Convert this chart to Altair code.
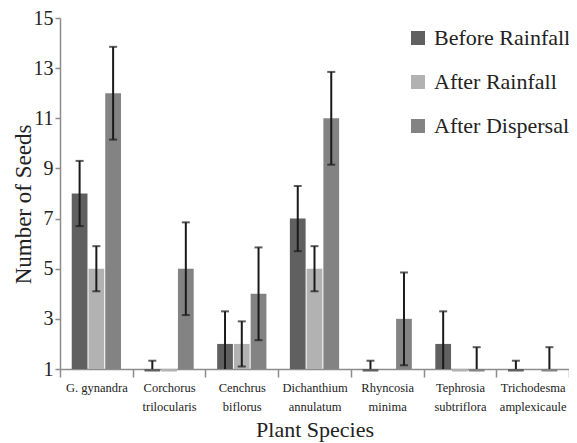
import altair as alt
import pandas as pd

species = ["G. gynandra", "Corchorus trilocularis", "Cenchrus biflorus",
           "Dichanthium annulatum", "Rhyncosia minima", "Tephrosia subtriflora",
           "Trichodesma amplexicaule"]
series = ["Before Rainfall", "After Rainfall", "After Dispersal"]
colors = ["#606060", "#b2b2b2", "#838383"]

before = [8, 0.9, 2, 7, 0.9, 2, 0.9]
before_err = [1.3, 0.43, 1.3, 1.3, 0.43, 1.3, 0.43]
after_rain = [5, 0.9, 2, 5, 1, 0.9, 1]
after_rain_err = [0.9, 0, 0.9, 0.9, 0, 0, 0]
after_disp = [12, 5, 4, 11, 3, 0.9, 0.9]
after_disp_err = [1.85, 1.85, 1.85, 1.85, 1.85, 0.97, 0.97]

rows = []
for s, vals, errs in zip(series, [before, after_rain, after_disp],
                         [before_err, after_rain_err, after_disp_err]):
    for sp, v, e in zip(species, vals, errs):
        rows.append({"species": sp, "series": s, "value": v, "err": e,
                     "lower": max(1.0, v - e), "upper": v + e,
                     "lowcap": (v - e) >= 1.0})
df = pd.DataFrame(rows)

FONT = "'Liberation Serif', 'Times New Roman', 'DejaVu Serif', serif"
AX = "#8c8c8c"

x_enc = alt.X("species:N", sort=species,
              scale=alt.Scale(paddingInner=0, paddingOuter=0),
              axis=alt.Axis(title="Plant Species", labelAngle=0, tickBand="extent",
                            tickSize=8, tickColor=AX, domainColor=AX, domainWidth=1.5,
                            tickWidth=1.5,
                            labelExpr="datum.label == 'G. gynandra' ? datum.label : split(datum.label, ' ')",
                            labelFont=FONT, labelFontSize=12.5, labelLineHeight=19,
                            labelPadding=4, labelColor="#222", labelLimit=200,
                            titleFont=FONT, titleFontSize=22, titleFontWeight="normal",
                            titleColor="#222", titleY=67, titleBaseline="alphabetic"))
xo_enc = alt.XOffset("series:N", sort=series,
                     scale=alt.Scale(domain=series, paddingOuter=0.7, paddingInner=0.06))
y_scale = alt.Scale(domain=[1, 15], nice=False, zero=False)

base = alt.Chart(df)

bars = base.mark_bar(strokeWidth=0).encode(
    x=x_enc, xOffset=xo_enc,
    y=alt.Y("value:Q", scale=y_scale,
            axis=alt.Axis(title="Number of Seeds", values=[1, 3, 5, 7, 9, 11, 13, 15],
                          tickSize=5, tickColor=AX, domainColor=AX, domainWidth=1.5,
                          tickWidth=1.5, grid=False, labelFont=FONT, labelFontSize=20,
                          labelPadding=2, labelColor="#222",
                          titleFont=FONT, titleFontSize=23, titleFontWeight="normal",
                          titleColor="#222", titleX=-30, titleY=186,
                          titleBaseline="alphabetic", titleAlign="center", titleAngle=270)),
    y2=alt.datum(1),
    color=alt.Color("series:N", sort=series,
                    scale=alt.Scale(domain=series, range=colors),
                    legend=alt.Legend(title=None, orient="none", legendX=347, legendY=9,
                                      symbolType="square", symbolSize=196,
                                      symbolStrokeWidth=0, labelFont=FONT,
                                      labelFontSize=22, labelColor="#222",
                                      rowPadding=22, labelOffset=5, labelLimit=300)),
)

rules = base.transform_filter("datum.err > 0").mark_rule(color="#1a1a1a", strokeWidth=2).encode(
    x=x_enc, xOffset=xo_enc,
    y=alt.Y("lower:Q", scale=y_scale), y2="upper:Q")

topcaps = base.transform_filter("datum.err > 0").mark_tick(
    orient="horizontal", color="#1a1a1a", size=8, thickness=2).encode(
    x=x_enc, xOffset=xo_enc, y=alt.Y("upper:Q", scale=y_scale))

lowcaps = base.transform_filter("datum.err > 0 && datum.lowcap").mark_tick(
    orient="horizontal", color="#1a1a1a", size=8, thickness=2).encode(
    x=x_enc, xOffset=xo_enc, y=alt.Y("lower:Q", scale=y_scale))

chart = alt.layer(bars, rules, topcaps, lowcaps).properties(
    width=509, height=351,
    autosize=alt.AutoSizeParams(type="none"),
    padding={"left": 52, "top": 10, "right": 0, "bottom": 74},
).configure_view(stroke=None).configure_axis(grid=False)

chart.save("out.html", embed_options={"renderer": "svg", "actions": False})
